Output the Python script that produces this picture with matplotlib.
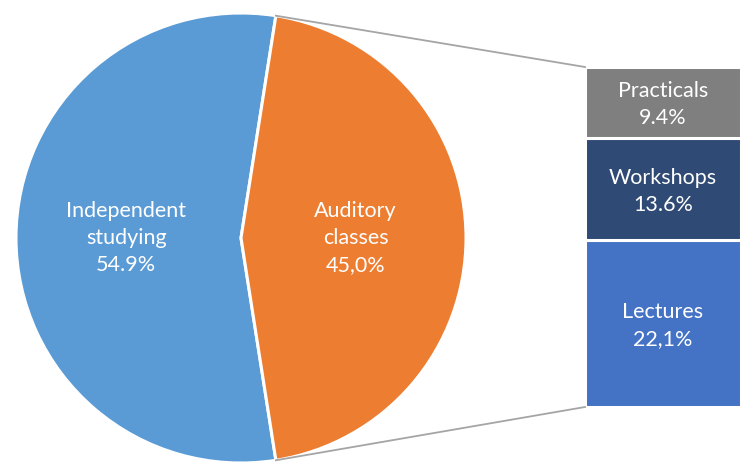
import numpy as np
import matplotlib.pyplot as plt

plt.rcParams['font.family'] = ['Lato', 'DejaVu Sans']

pie_labels = ['Independent\nstudying', 'Auditory\nclasses']
pie_values = [54.9, 45.0]
pie_texts = ['54.9%', '45,0%']
pie_colors = ['#5b9bd5', '#ed7d31']

bar_labels = ['Lectures', 'Workshops', 'Practicals']
bar_values = [22.1, 13.6, 9.4]
bar_texts = ['22,1%', '13.6%', '9.4%']
bar_colors = ['#4472c4', '#2f4a74', '#7f7f7f']

W, H = 742, 462
fig = plt.figure(figsize=(W / 100, H / 100), dpi=100)
ax = fig.add_axes([0, 0, 1, 1])

# pie in pixel coordinates
cx, cy, r = 241, H - 238, 225
half = pie_values[1] / sum(pie_values) * 180
wedges, _ = ax.pie(pie_values, colors=pie_colors, startangle=half, center=(cx, cy),
                   radius=r, frame=True,
                   wedgeprops=dict(edgecolor='white', linewidth=2.2))
ax.set_xlim(0, W)
ax.set_ylim(0, H)
ax.set_aspect('equal')
ax.axis('off')

fs = 15.5
labs = [l + '\n' + t for l, t in zip(pie_labels, pie_texts)]
for w, lab in zip(wedges, labs):
    mid = np.deg2rad((w.theta1 + w.theta2) / 2)
    ax.text(cx + 0.51 * r * np.cos(mid), cy + 0.51 * r * np.sin(mid), lab,
            ha='center', va='center', color='white', fontsize=fs, linespacing=1.45)

# stacked bar
bx0, bx1 = 585, 741
by0, by1 = H - 407, H - 67
scale = (by1 - by0) / sum(bar_values)
bottom = by0
for lab, v, t, c in zip(bar_labels, bar_values, bar_texts, bar_colors):
    h = v * scale
    ax.bar((bx0 + bx1) / 2, h, width=bx1 - bx0, bottom=bottom, color=c,
           edgecolor='white', linewidth=2.2)
    ax.text((bx0 + bx1) / 2, bottom + h / 2 - 2, lab + '\n' + t, ha='center', va='center',
            color='white', fontsize=fs, linespacing=1.45)
    bottom += h

# connector lines
for ang, by in [(wedges[1].theta2, by1), (wedges[1].theta1, by0)]:
    a = np.deg2rad(ang)
    ax.plot([cx + r * np.cos(a), bx0], [cy + r * np.sin(a), by], color='#a5a5a5', lw=1.3)

fig.savefig('out.png', dpi=100)
